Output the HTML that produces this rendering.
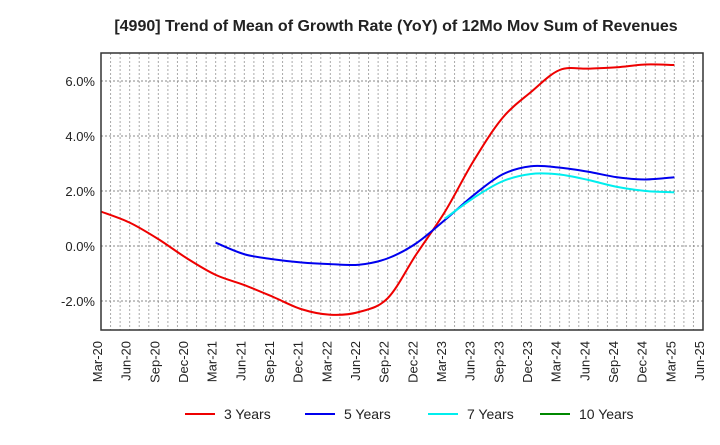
<!DOCTYPE html>
<html><head><meta charset="utf-8"><style>
body{margin:0;background:#fff;font-family:"Liberation Sans",sans-serif;}
</style></head><body>
<svg id="chart" width="720" height="440" xmlns="http://www.w3.org/2000/svg">
<text x="396" y="31" text-anchor="middle" font-size="16" font-weight="bold" fill="#222">[4990]  Trend of Mean of Growth Rate (YoY) of 12Mo Mov Sum of Revenues</text>
<g id="grid"></g><g id="series"></g><g id="axes"></g><g id="legend"></g>
</svg>
<script>
const xLabels=["Mar-20","Jun-20","Sep-20","Dec-20","Mar-21","Jun-21","Sep-21","Dec-21","Mar-22","Jun-22","Sep-22","Dec-22","Mar-23","Jun-23","Sep-23","Dec-23","Mar-24","Jun-24","Sep-24","Dec-24","Mar-25","Jun-25"];
const yTicks=[-2,0,2,4,6];
const y3Start=0;
const y3=[1.25,0.85,0.25,-0.45,-1.05,-1.42,-1.85,-2.3,-2.5,-2.4,-1.9,-0.3,1.25,3.1,4.65,5.6,6.4,6.45,6.5,6.6,6.58];
const y5Start=4;
const y5=[0.12,-0.3,-0.48,-0.6,-0.66,-0.68,-0.45,0.1,0.95,1.85,2.6,2.9,2.85,2.7,2.5,2.42,2.5];
const y7Start=12;
const y7=[1.0,1.75,2.35,2.62,2.6,2.4,2.15,2.0,1.95];
const seriesNames=["3 Years","5 Years","7 Years","10 Years"];
const seriesColors=["#e00","#00e","#0ee","#080"];
const L=101,R=703,T=53,B=330;
const xs=q=>L+q*(R-L)/21;
const ys=v=>246-v*27.5;
const NS="http://www.w3.org/2000/svg";
function mk(tag,attrs,parent){const e=document.createElementNS(NS,tag);for(const k in attrs)e.setAttribute(k,attrs[k]);parent.appendChild(e);return e;}
const grid=document.getElementById('grid'),axes=document.getElementById('axes'),ser=document.getElementById('series'),leg=document.getElementById('legend');
for(let m=1;m<63;m++){const x=L+m*(R-L)/63;
 const g=mk('line',{x1:x,x2:x,y1:T,y2:B,stroke:'#aaa','stroke-dasharray':'2,2','stroke-width':1},grid);
 
 }
yTicks.forEach(v=>{const y=ys(v);
 const g=mk('line',{x1:L,x2:R,y1:y,y2:y,stroke:'#888','stroke-dasharray':'2,2','stroke-width':1},grid);
 
 
 const t=mk('text',{x:L-6,y:y+5,'text-anchor':'end','font-size':13,fill:'#222'},axes);t.textContent=v.toFixed(1)+'%';
 
 });
const fr=mk('rect',{x:L,y:T,width:R-L,height:B-T,fill:'none',stroke:'#333','stroke-width':1.5},axes);


xLabels.forEach((s,i)=>{const x=xs(i)-3;
 const t=mk('text',{x:x,y:B+7,'text-anchor':'end','font-size':13,fill:'#222',transform:`rotate(-90 ${x+4} ${B+7})`},axes);t.textContent=s;
 
 });
function path(vals,start){const p=vals.map((v,i)=>[xs(start+i),ys(v)]);let d=`M${p[0][0]},${p[0][1]}`;
 for(let i=0;i<p.length-1;i++){const p0=p[Math.max(i-1,0)],p1=p[i],p2=p[i+1],p3=p[Math.min(i+2,p.length-1)];
  d+=` C${p1[0]+(p2[0]-p0[0])/6},${p1[1]+(p2[1]-p0[1])/6} ${p2[0]-(p3[0]-p1[0])/6},${p2[1]-(p3[1]-p1[1])/6} ${p2[0]},${p2[1]}`;}
 return d;}
[[y3,y3Start,0],[y5,y5Start,1],[y7,y7Start,2]].forEach(([v,s,k])=>{
 const e=mk('path',{d:path(v,s),fill:'none',stroke:seriesColors[k],'stroke-width':2},ser);
 
 });
const lx=[185,305,428,540];
seriesNames.forEach((n,k)=>{
 const g=mk('g',{},leg);
 
 
 mk('line',{x1:lx[k],x2:lx[k]+30,y1:414,y2:414,stroke:seriesColors[k],'stroke-width':2},g);
 const t=mk('text',{x:lx[k]+39,y:419,'font-size':14,fill:'#222'},g);t.textContent=n;});
</script>
</body></html>
